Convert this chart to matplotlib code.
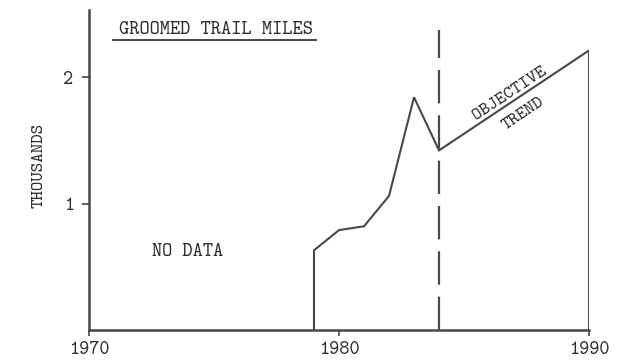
import matplotlib.pyplot as plt

# groomed trail miles (thousands), measured years then the objective trend
years = [1979, 1979, 1980, 1981, 1982, 1983, 1984, 1990, 1990]
miles = [0.0, 0.63, 0.79, 0.82, 1.06, 1.84, 1.42, 2.21, 0.0]

objective_year = 1984
x_ticks = [1970, 1980, 1990]
x_labels = ['1970', '1980', '1990']
y_ticks = [1, 2]
y_labels = ['1', '2']

ink = '#2e2e2e'
line = '#484848'
font = 'cmtt10'

fig = plt.figure(figsize=(6.31, 3.6), dpi=100)
ax = fig.add_axes([0.141, 0.0833, 0.7925, 0.889])

ax.plot(years, miles, color=line, lw=1.5, solid_joinstyle='miter')
# dashed marker for the objective start year, drawn upward from the axis
ax.plot([objective_year, objective_year], [0, 2.37], color=line, lw=1.6,
        linestyle=(0, (15, 5.4)))

ax.set_xlim(1970, 1990)
ax.set_ylim(0, 2.53)
for side in ['top', 'right']:
    ax.spines[side].set_visible(False)
for side in ['left', 'bottom']:
    ax.spines[side].set_color(line)
    ax.spines[side].set_linewidth(1.8)

ax.set_xticks(x_ticks)
ax.set_xticklabels(x_labels, fontfamily=font, fontsize=14, color=ink)
ax.set_yticks(y_ticks)
ax.set_yticklabels(y_labels, fontfamily=font, fontsize=14, color=ink)
ax.tick_params(axis='x', length=4, width=1.2, color=line, pad=4)
ax.tick_params(axis='y', length=5, width=1.2, color=line, pad=6)

ax.text(-0.1, 1.30, 'THOUSANDS', rotation=90, ha='center', va='center',
        family=font, fontsize=13, color=ink,
        transform=ax.get_yaxis_transform())

# underlined heading
ax.text(1975.1, 2.37, 'GROOMED TRAIL MILES', ha='center', va='center',
        family=font, fontsize=14, color=ink)
ax.plot([1970.96, 1979.08], [2.29, 2.29], color=line, lw=1.4, clip_on=False)

ax.text(1973.96, 0.62, 'NO DATA', ha='center', va='center',
        family=font, fontsize=14, color=ink)
ax.text(1986.84, 1.87, 'OBJECTIVE', ha='center', va='center', rotation=33.5,
        family=font, fontsize=13, color=ink)
ax.text(1987.36, 1.71, 'TREND', ha='center', va='center', rotation=34,
        family=font, fontsize=13, color=ink)

fig.savefig('out.png', dpi=100)
